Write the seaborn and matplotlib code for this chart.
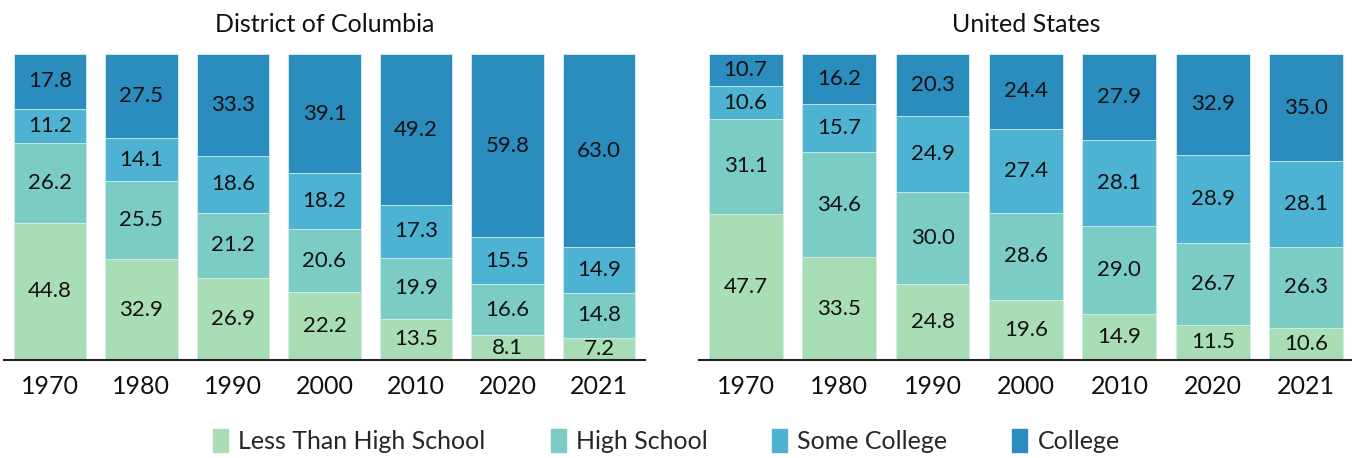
import matplotlib
matplotlib.use("Agg")
import matplotlib.pyplot as plt
import matplotlib.patches as mpatches
import seaborn as sns
import pandas as pd
import numpy as np

YEARS = ["1970", "1980", "1990", "2000", "2010", "2020", "2021"]
LEVELS = ["Less Than High School", "High School", "Some College", "College"]
COLORS = ["#A8DDB5", "#7BCCC4", "#4EB3D3", "#2B8CBE"]

# District of Columbia, share by education level (%)
dc_less_hs = [44.8, 32.9, 26.9, 22.2, 13.5, 8.1, 7.2]
dc_hs = [26.2, 25.5, 21.2, 20.6, 19.9, 16.6, 14.8]
dc_some = [11.2, 14.1, 18.6, 18.2, 17.3, 15.5, 14.9]
dc_college = [17.8, 27.5, 33.3, 39.1, 49.2, 59.8, 63.0]

# United States
us_less_hs = [47.7, 33.5, 24.8, 19.6, 14.9, 11.5, 10.6]
us_hs = [31.1, 34.6, 30.0, 28.6, 29.0, 26.7, 26.3]
us_some = [10.6, 15.7, 24.9, 27.4, 28.1, 28.9, 28.1]
us_college = [10.7, 16.2, 20.3, 24.4, 27.9, 32.9, 35.0]

sns.set_theme(style="white")
plt.rcParams["font.family"] = ["Lato", "DejaVu Sans"]


def stacked(ax, series, title):
    df = pd.DataFrame(dict(zip(LEVELS, series)), index=YEARS)
    cum = df.cumsum(axis=1)
    # draw from the tallest layer down so each lower layer sits on top
    for i in range(len(LEVELS) - 1, -1, -1):
        sns.barplot(x=YEARS, y=cum[LEVELS[i]].values, ax=ax, color=COLORS[i],
                    width=0.79, edgecolor="#d8eef0", linewidth=0.6,
                    saturation=1)
    for j, yr in enumerate(YEARS):
        base = 0
        for lvl in LEVELS:
            v = df.loc[yr, lvl]
            ax.text(j, base + v / 2, f"{v:.1f}", ha="center", va="center",
                    fontsize=16, color="#111111")
            base += v
    ax.set_ylim(0, 100)
    ax.set_xlim(-0.5, len(YEARS) - 0.5)
    ax.set_yticks([])
    ax.set_ylabel("")
    ax.set_title(title, fontsize=18, color="#111111", pad=16)
    for s in ["top", "right", "left"]:
        ax.spines[s].set_visible(False)
    ax.spines["bottom"].set_color("#222222")
    ax.spines["bottom"].set_linewidth(1.5)
    ax.tick_params(axis="x", labelsize=18, colors="#111111", length=0, pad=11)


fig = plt.figure(figsize=(13.52, 4.58), dpi=100)
ax1 = fig.add_axes([0.003, 0.214, 0.474, 0.668])
ax2 = fig.add_axes([0.517, 0.214, 0.4837, 0.668])

stacked(ax1, [dc_less_hs, dc_hs, dc_some, dc_college], "District of Columbia")
stacked(ax2, [us_less_hs, us_hs, us_some, us_college], "United States")

handles = [mpatches.Patch(color=c, label=l) for c, l in zip(COLORS, LEVELS)]
fig.legend(handles=handles, loc="center", bbox_to_anchor=(0.493, 0.037),
           ncol=4, frameon=False, fontsize=18, handlelength=0.6,
           handleheight=1.0, handletextpad=0.4, columnspacing=2.6)

fig.savefig("out.png", dpi=100)
